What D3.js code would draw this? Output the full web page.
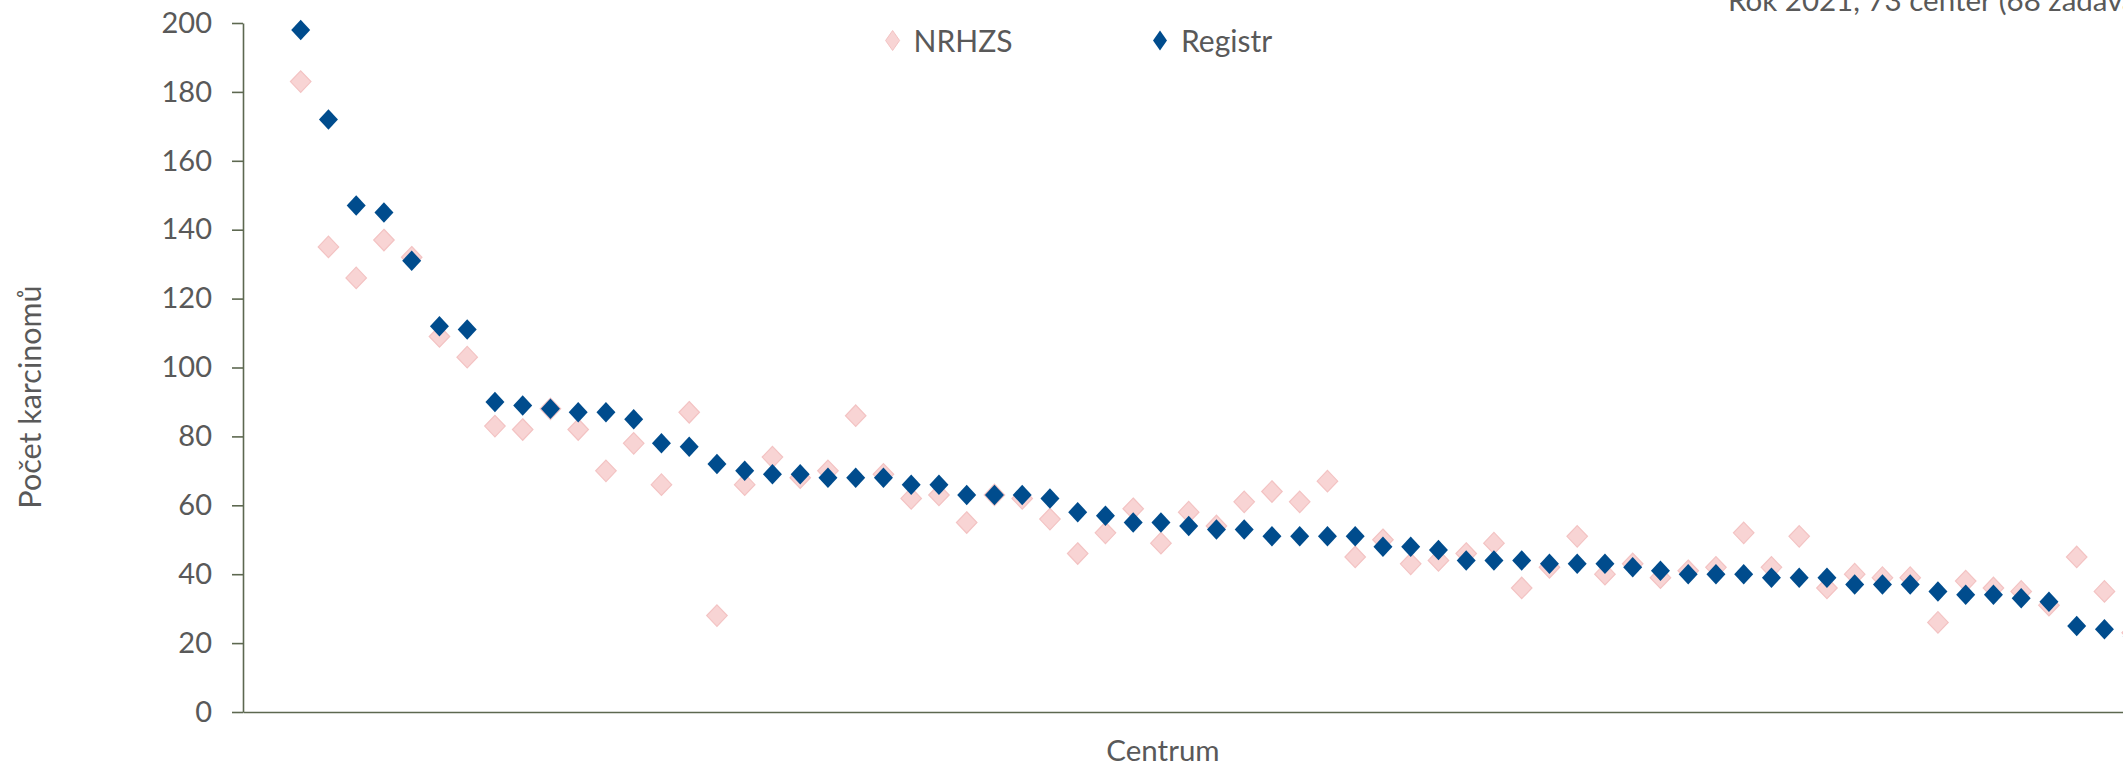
<!DOCTYPE html>
<html>
<head>
<meta charset="utf-8">
<script src="https://cdn.jsdelivr.net/npm/d3@7"></script>
<style>
  html, body { margin: 0; padding: 0; background: #ffffff; overflow: hidden; }
  svg { display: block; }
  text { font-family: Lato, "Open Sans", sans-serif; fill: #595959; }
</style>
</head>
<body>
<svg id="chart" width="2123" height="769"></svg>
<script>
// ---- data ----
const centers = d3.range(1, 68); // ranked centres (visible part of the chart)
const registr = [198, 172, 147, 145, 131, 112, 111, 90, 89, 88, 87, 87, 85, 78, 77, 72, 70, 69, 69, 68,
  68, 68, 66, 66, 63, 63, 63, 62, 58, 57, 55, 55, 54, 53, 53, 51, 51, 51, 51, 48,
  48, 47, 44, 44, 44, 43, 43, 43, 42, 41, 40, 40, 40, 39, 39, 39, 37, 37, 37, 35,
  34, 34, 33, 32, 25, 24, 22];
const nrhzs = [183, 135, 126, 137, 132, 109, 103, 83, 82, 88, 82, 70, 78, 66, 87, 28, 66, 74, 68, 70,
  86, 69, 62, 63, 55, 63, 62, 56, 46, 52, 59, 49, 58, 54, 61, 64, 61, 67, 45, 50,
  43, 44, 46, 49, 36, 42, 51, 40, 43, 39, 41, 42, 52, 42, 51, 36, 40, 39, 39, 26,
  38, 36, 35, 31, 45, 35, 23];
const yTicks = [0, 20, 40, 60, 80, 100, 120, 140, 160, 180, 200];
const seriesNames = ["NRHZS", "Registr"];
const yTitle = "Počet karcinomů";
const xTitle = "Centrum";
const subtitle = "Rok 2021, 73 center (68 zadavatelů)";

// ---- layout ----
const W = 2123, H = 769;
const axisX = 243, plotBottom = 712, plotTop = 23;
const svg = d3.select("#chart");

const y = d3.scaleLinear().domain([0, 200]).range([plotBottom, plotTop]);
const step = 27.75;
const x = d3.scaleLinear().domain([1, 67]).range([300.7, 300.7 + 66 * step]);
const xLine = d3.scaleLinear().domain([0, 1]).range([axisX, W + 2]);

const axisColor = "#5d6850";

// y axis
const yAxis = svg.append("g")
  .attr("transform", `translate(${axisX},0)`)
  .call(d3.axisLeft(y).tickValues(yTicks).tickSizeInner(11).tickSizeOuter(0).tickPadding(20));
yAxis.select(".domain").attr("stroke", axisColor).attr("stroke-width", 1.6);
yAxis.selectAll(".tick line").attr("stroke", axisColor).attr("stroke-width", 1.6);
yAxis.selectAll(".tick text")
  .attr("font-family", "Lato, sans-serif")
  .attr("font-size", 29)
  .attr("fill", "#595959");

// x axis (line only)
const xAxis = svg.append("g")
  .attr("transform", `translate(0,${plotBottom})`)
  .call(d3.axisBottom(xLine).tickValues([]).tickSizeOuter(0));
xAxis.select(".domain").attr("stroke", axisColor).attr("stroke-width", 1.6);

// diamond marker: width w, height h
const diamondPath = (w, h) => {
  const p = d3.path();
  p.moveTo(0, -h / 2); p.lineTo(w / 2, 0); p.lineTo(0, h / 2); p.lineTo(-w / 2, 0); p.closePath();
  return p.toString();
};

svg.append("g").selectAll("path")
  .data(centers.map((c, i) => ({c, v: nrhzs[i]})))
  .join("path")
  .attr("d", diamondPath(20.5, 21.5))
  .attr("transform", d => `translate(${x(d.c)},${y(d.v)})`)
  .attr("fill", "#f8d4d4")
  .attr("stroke", "#f3c3c3")
  .attr("stroke-width", 1.2);

svg.append("g").selectAll("path")
  .data(centers.map((c, i) => ({c, v: registr[i]})))
  .join("path")
  .attr("d", diamondPath(19, 20.5))
  .attr("transform", d => `translate(${x(d.c)},${y(d.v)})`)
  .attr("fill", "#004c8d");

// axis titles
svg.append("text")
  .attr("transform", `translate(41,${397}) rotate(-90)`)
  .attr("text-anchor", "middle")
  .attr("font-size", 30.5)
  .text(yTitle);

svg.append("text")
  .attr("x", 1163).attr("y", 761)
  .attr("text-anchor", "middle")
  .attr("font-size", 29.5)
  .text(xTitle);

// legend
const legend = svg.append("g");
const legItems = [
  {name: seriesNames[0], cx: 892.6, fill: "#f8d4d4", stroke: "#f3c3c3"},
  {name: seriesNames[1], cx: 1160, fill: "#004c8d", stroke: "none"}
];
legItems.forEach(it => {
  legend.append("path")
    .attr("d", diamondPath(14, 20))
    .attr("transform", `translate(${it.cx},40.5)`)
    .attr("fill", it.fill)
    .attr("stroke", it.stroke)
    .attr("stroke-width", 1);
  legend.append("text")
    .attr("x", it.cx + 21).attr("y", 52)
    .attr("font-size", 30)
    .text(it.name);
});

// subtitle (cropped at top/right in the original)
svg.append("text")
  .attr("x", 1728).attr("y", 11)
  .attr("font-size", 29.5)
  .text(subtitle);
</script>
</body>
</html>
